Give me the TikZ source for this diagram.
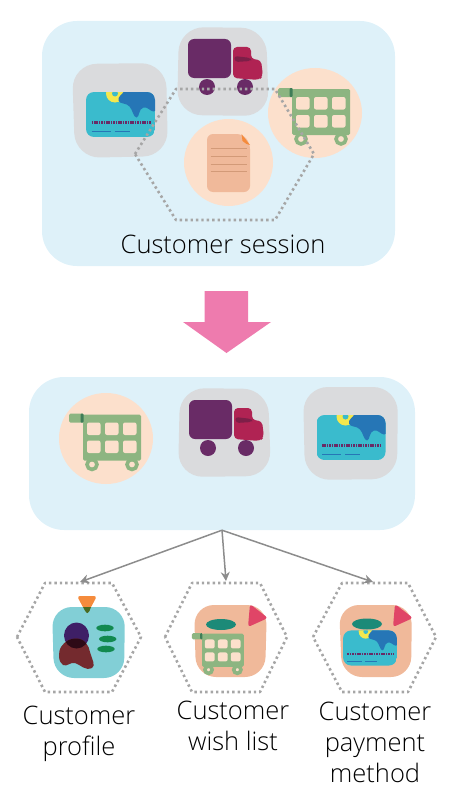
\documentclass[tikz,border=0pt]{standalone}
\usepackage{fontspec}
\setmainfont[UprightFont=* Light]{Open Sans}
\usetikzlibrary{arrows.meta}
\definecolor{panelblue}{HTML}{DEF1F9}
\definecolor{tilegray}{HTML}{DADBDD}
\definecolor{peachlight}{HTML}{FCE0CC}
\definecolor{peach}{HTML}{F0B99A}
\definecolor{docline}{HTML}{D39A78}
\definecolor{cartgreen}{HTML}{8DB581}
\definecolor{cartdark}{HTML}{3F7D58}
\definecolor{truckpurple}{HTML}{692B66}
\definecolor{truckred}{HTML}{B02353}
\definecolor{truckdark}{HTML}{7D1F48}
\definecolor{cardteal}{HTML}{3ABBCD}
\definecolor{cardblue}{HTML}{2676B6}
\definecolor{cardyellow}{HTML}{F4E84E}
\definecolor{arrowpink}{HTML}{EE7BAE}
\definecolor{dotgray}{HTML}{A6A6A6}
\definecolor{linegray}{HTML}{8C8C8C}
\definecolor{profteal}{HTML}{82CFD6}
\definecolor{profgreen}{HTML}{12894F}
\definecolor{ovalgreen}{HTML}{1C8A78}
\definecolor{tagred}{HTML}{E04567}
\definecolor{tagorange}{HTML}{F58B3C}
\definecolor{tagtip}{HTML}{4A6A20}
\definecolor{headindigo}{HTML}{3E1F66}
\definecolor{bodyred}{HTML}{742A2E}
\definecolor{overlapdark}{HTML}{2D0A16}
\tikzset{
  panel/.style={fill=panelblue,draw=none,rounded corners=35pt,inner sep=0pt},
  tile/.style={fill=tilegray,rounded corners=25pt},
  iconbase/.style={rounded corners=20pt},
  dottedhex/.style={draw=dotgray,line width=2.6pt,dash pattern=on 2.4pt off 3pt,line join=round},
  feed/.style={draw=linegray,line width=1.5pt,-{Stealth[length=9pt,width=9pt,inset=3pt]}},
  lbl/.style={align=center,font=\fontsize{25.5}{31}\selectfont,text=black,inner sep=0pt},
  pics/cart/.style={code={
    \fill[cartgreen,rounded corners=1.5pt] (-23,-24) -- (35,-24) -- (35,22) -- (-23,22) -- cycle;
    \foreach \cx in {-19,-1,17}\foreach \cy in {-16,2}
      \fill[#1,rounded corners=2pt] (\cx,\cy) rectangle ++(13.5,12.5);
    \fill[cartgreen,rounded corners=1.5pt] (-37,-25) rectangle (-22,-16);
    \fill[cartdark,rounded corners=1pt] (-25.5,-25) rectangle (-22.5,-16);
    \draw[cartgreen,line width=3.6pt,fill=#1] (-14,26) circle (5);
    \draw[cartgreen,line width=3.6pt,fill=#1] (26,26) circle (5);
  }},
  pics/truck/.style={code={
    \fill[truckpurple,rounded corners=6pt] (-35,-32) rectangle (8,7);
    \fill[truckred,rounded corners=4pt] (10,-24) -- (28,-24) -- (28,-12) -- (38,-11) -- (40,5) -- (36,9) -- (10,7) -- cycle;
    \fill[truckdark,rounded corners=3pt] (11,-15) -- (28,-13) -- (28,-10) -- (12,-9) -- cycle;
    \fill[truckpurple] (-16,16) circle (8);
    \fill[truckpurple] (22,16) circle (8);
  }},
  pics/card/.style={code={
    \begin{scope}
      \clip[rounded corners=8pt] (-34.5,-22.5) rectangle (34.5,22.5);
      \fill[cardteal] (-34.5,-22.5) rectangle (34.5,22.5);
      \fill[cardyellow] (-5.5,-21) circle (9);
      \fill[cardteal] (-5.5,-21) circle (3);
      \fill[cardblue] (4,-24) .. controls (2,-20) and (-3,-18) .. (-2,-14)
        .. controls (-1,-10) and (6,-12) .. (9,-8)
        .. controls (12,-5) and (13,3) .. (16,3)
        .. controls (19,3) and (18,-6) .. (23,-7)
        .. controls (27,-8) and (30,-3) .. (33,-3)
        .. controls (36,-3) and (36,-8) .. (36,-12) -- (36,-24) -- cycle;
    \end{scope}
    \draw[truckpurple,line width=2.4pt,dash pattern=on 1.6pt off .8pt] (-29,8) -- (30,8);
    \draw[cardblue,line width=1pt] (-29,17) -- (-10,17) (-6,17) -- (9,17);
  }},
  pics/doc/.style={code={
    \fill[peach,rounded corners=6pt] (-21.5,-29) -- (14,-29) -- (21.5,-20) -- (21.5,29) -- (-21.5,29) -- cycle;
    \fill[tagorange] (13,-29) -- (21.5,-18) -- (18,-19) -- (14,-22) -- cycle;
    \foreach \ly in {-15,-7,1,8.5}
      \draw[docline,line width=1pt] (-18,\ly) -- (18,\ly);
  }}
}
\begin{document}
\begin{tikzpicture}[x=1pt,y=-1pt]
\useasboundingbox (0,0) rectangle (453,800);
% top panel
\node[panel,minimum width=353pt,minimum height=245pt] (session) at (218.5,143.5) {};
\path[tile] (72,64) -- (166,63) -- (168,156) -- (75,158) -- cycle;
\path[tile] (179,27) -- (266,28) -- (269,116) -- (177,115) -- cycle;
\fill[peachlight] (315,113) ellipse (47 and 45);
\fill[peachlight] (228.5,162.5) ellipse (44.5 and 43.5);
\pic at (120.5,114.5) {card};
\pic at (223,71) {truck};
\pic at (315,113) {cart=peachlight};
\pic at (228.5,163) {doc};
\draw[dottedhex] (135,154) -- (176,89) -- (275,89) -- (314,154) -- (275,220) -- (176,220) -- cycle;
\node[lbl] (sessionlabel) at (223,244) {Customer session};
% big arrow
\fill[arrowpink] (204.5,291) -- (248,291) -- (248,322) -- (271,322) -- (226.5,353) -- (183,322) -- (204.5,322) -- cycle;
% middle panel
\node[panel,minimum width=386pt,minimum height=153pt] (cart panel) at (222,453.5) {};
\fill[peachlight] (106,438.5) ellipse (47 and 45.5);
\path[tile] (180,388) -- (268,389) -- (271,476) -- (178,477) -- cycle;
\path[tile] (303,387) -- (398,387) -- (397,479) -- (305,480) -- cycle;
\pic at (106,438.5) {cart=peachlight};
\pic at (224,432) {truck};
\pic at (351,437.5) {card};
% dotted hexes
\coordinate (hexa) at (80,582);
\coordinate (hexb) at (226,581);
\coordinate (hexc) at (373,582);
\draw[dottedhex] (17,637) -- (45,583) -- (112,583) -- (141,637) -- (112,692) -- (45,692) -- cycle;
\draw[dottedhex] (165,637) -- (192,583) -- (260,583) -- (287,637) -- (260,692) -- (192,692) -- cycle;
\draw[dottedhex] (313,637) -- (342,583) -- (408,583) -- (436,637) -- (408,692) -- (342,692) -- cycle;
\draw[feed] (cart panel.south) -- (hexa);
\draw[feed] (cart panel.south) -- (hexb);
\draw[feed] (cart panel.south) -- (hexc);
% profile icon
\fill[profteal,iconbase] (52,607) -- (125,607) -- (124,678) -- (54,678) -- cycle;
\fill[tagorange,rounded corners=3pt] (77,596) -- (97,596) -- (90,609) -- (84,609) -- cycle;
\fill[tagtip] (83,607) -- (91,607) .. controls (90,610) and (89,613) .. (87.5,613) .. controls (86,613) and (84.5,610) .. (83,607) -- cycle;
\fill[headindigo] (76.5,635.5) ellipse (12.5 and 13);
\fill[bodyred] (76,638.5) .. controls (85,638.5) and (89,646) .. (90,652) .. controls (92,659) and (96,666) .. (92,668) .. controls (85,671) and (81,665) .. (75,663) .. controls (70,662) and (67,667) .. (63,665) .. controls (58,662) and (58,652) .. (61,647) .. controls (65,641) and (70,638.5) .. (76,638.5) -- cycle;
\begin{scope}
  \clip (76.5,635.5) ellipse (12.5 and 13);
  \fill[overlapdark] (76,638.5) .. controls (85,638.5) and (89,646) .. (90,652) -- (60,652) .. controls (61,647) and (65,638.5) .. (76,638.5) -- cycle;
\end{scope}
\fill[profgreen] (105,628) ellipse (8.7 and 3.3);
\fill[profgreen] (107.7,639) ellipse (8.7 and 3.3);
\fill[profgreen] (106,649) ellipse (8.7 and 3.3);
% wish list icon
\fill[peach,iconbase] (194,605) -- (267,605) -- (265,677) -- (196,677) -- cycle;
\fill[ovalgreen] (221,624.5) ellipse (15 and 5.5);
\fill[tagred,rounded corners=3pt] (250,604) -- (268,618) -- (248,627) -- cycle;
\pic[scale=.72] at (218.6,651) {cart=peachlight};
% payment icon
\fill[peach,iconbase] (339,605) -- (412,605) -- (411,677) -- (342,677) -- cycle;
\fill[ovalgreen] (367,624) ellipse (15 and 5.5);
\fill[tagred,rounded corners=3pt] (395,604) -- (413,618) -- (393,627) -- cycle;
\pic[scale=.78] at (370,648) {card};
% labels
\node[lbl] (profile) at (79,734) {Customer\\profile};
\node[lbl] (wish) at (233,726) {Customer\\wish list};
\node[lbl] (payment) at (375,742) {Customer\\payment\\method};
\end{tikzpicture}
\end{document}
